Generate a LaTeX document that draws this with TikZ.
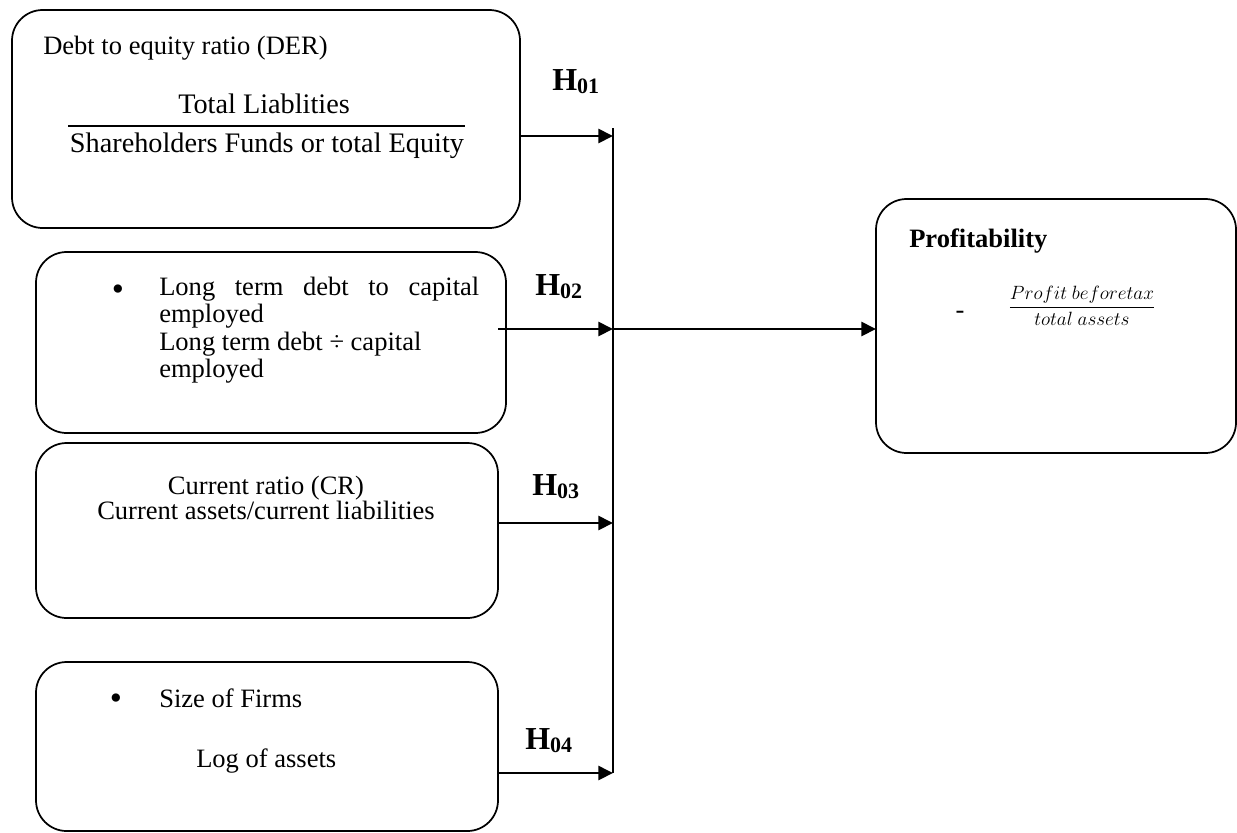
\documentclass[tikz,border=0pt]{standalone}
\usepackage{amsmath}
\usepackage{fontspec}
\setmainfont{Liberation Serif}
\usetikzlibrary{arrows.meta}

\newcommand{\hyp}[1]{{\fontsize{24}{28}\selectfont\bfseries H\raisebox{-2.25pt}{\fontsize{16.5}{18}\selectfont #1}}}

\tikzset{
  varbox/.style={draw, rounded corners=23pt, line width=1.3pt, inner sep=0pt, outer sep=0pt},
  txt/.style={inner sep=0pt, font={\fontsize{19.9}{20.6}\selectfont}},
  ratio/.style={inner sep=0pt, font={\fontsize{21.2}{24}\selectfont}},
  dot/.style={inner sep=0pt, font={\fontsize{26}{28}\selectfont}},
  link/.style={line width=2pt, -{Triangle[length=11pt,width=10.5pt]}},
  bus/.style={line width=1.5pt}
}

\begin{document}
\begin{tikzpicture}[x=0.75pt,y=0.75pt,yscale=-1,xscale=1]
        \useasboundingbox (0,0) rectangle (1237,832);

        %Shape: Rounded Rect [id:der]
        \node (der) [varbox, minimum width=381pt, minimum height=163.5pt] at (266,119) {};
        %Shape: Rounded Rect [id:ltd]
        \node (ltd) [varbox, minimum width=352.5pt, minimum height=135.75pt] at (271,342.5) {};
        %Shape: Rounded Rect [id:cr]
        \node (cr) [varbox, minimum width=346.5pt, minimum height=131.25pt] at (267,530.5) {};
        %Shape: Rounded Rect [id:size]
        \node (size) [varbox, minimum width=346.5pt, minimum height=126.75pt] at (267,746.5) {};
        %Shape: Rounded Rect [id:prof]
        \node (prof) [varbox, minimum width=270pt, minimum height=190.5pt] at (1056,326) {};

        % Text Node
        \node (dertitle) [txt, anchor=base west] at (43,54) {Debt to equity ratio (DER)};
        % Text Node
        \node (dernum) [ratio, anchor=base] at (264,113) {Total Liablities};
        \draw [line width=1pt] (68,126) -- (465,126) ;
        % Text Node
        \node (derden) [ratio, anchor=base] at (267,152) {Shareholders Funds or total Equity};

        % Text Node
        \node (ltdbullet) [dot, anchor=base] at (118,300) {•};
        \node (ltda) [txt, anchor=base west] at (159,295) {\makebox[240pt][s]{Long term debt to capital}};
        \node (ltdb) [txt, anchor=base west] at (159,322.5) {employed};
        \node (ltdc) [txt, anchor=base west] at (159,350) {Long term debt ÷ capital};
        \node (ltdd) [txt, anchor=base west] at (159,377.5) {employed};

        % Text Node
        \node (crtitle) [txt, anchor=base] at (266,494) {Current ratio (CR)};
        \node (crdef) [txt, anchor=base] at (266,519) {Current assets/current liabilities};

        % Text Node
        \node (sizebullet) [dot, anchor=base] at (116,709.5) {•};
        \node (sizetitle) [txt, anchor=base west] at (159,707) {Size of Firms};
        \node (sizedef) [txt, anchor=base west] at (196,767.5) {Log of assets};

        % Text Node
        \node (proftitle) [txt, anchor=base west, font={\fontsize{19.9}{22}\selectfont\bfseries}] at (909,247) {Profitability};
        \node (profdash) [txt, anchor=base] at (960,318) {-};
        \node (proffrac) [inner sep=0pt, anchor=base, font={\fontsize{14.4}{17}\selectfont}] at (1082,312) {$\dfrac{Profit\ beforetax}{total\ assets}$};

        % Hypotheses
        \node (h1) [inner sep=0pt, anchor=base west] at (552,90) {\hyp{01}};
        \node (h2) [inner sep=0pt, anchor=base west] at (535,295) {\hyp{02}};
        \node (h3) [inner sep=0pt, anchor=base west] at (532,495) {\hyp{03}};
        \node (h4) [inner sep=0pt, anchor=base west] at (525,749) {\hyp{04}};

        % Connectors
        \coordinate (bt) at (613,128);
        \coordinate (j1) at (613,136);
        \coordinate (j2) at (613,329);
        \coordinate (j3) at (613,523);
        \coordinate (j4) at (613,773);
        \coordinate (s2) at (498,329);
        \draw [bus] (bt) -- (j4) ;
        \draw [link] (j1 -| der.east) -- (j1) ;
        \draw [link] (s2) -- (j2) ;
        \draw [link] (j3 -| cr.east) -- (j3) ;
        \draw [link] (j4 -| size.east) -- (j4) ;
        \draw [link] (j2) -- (j2 -| prof.west) ;

\end{tikzpicture}
\end{document}
